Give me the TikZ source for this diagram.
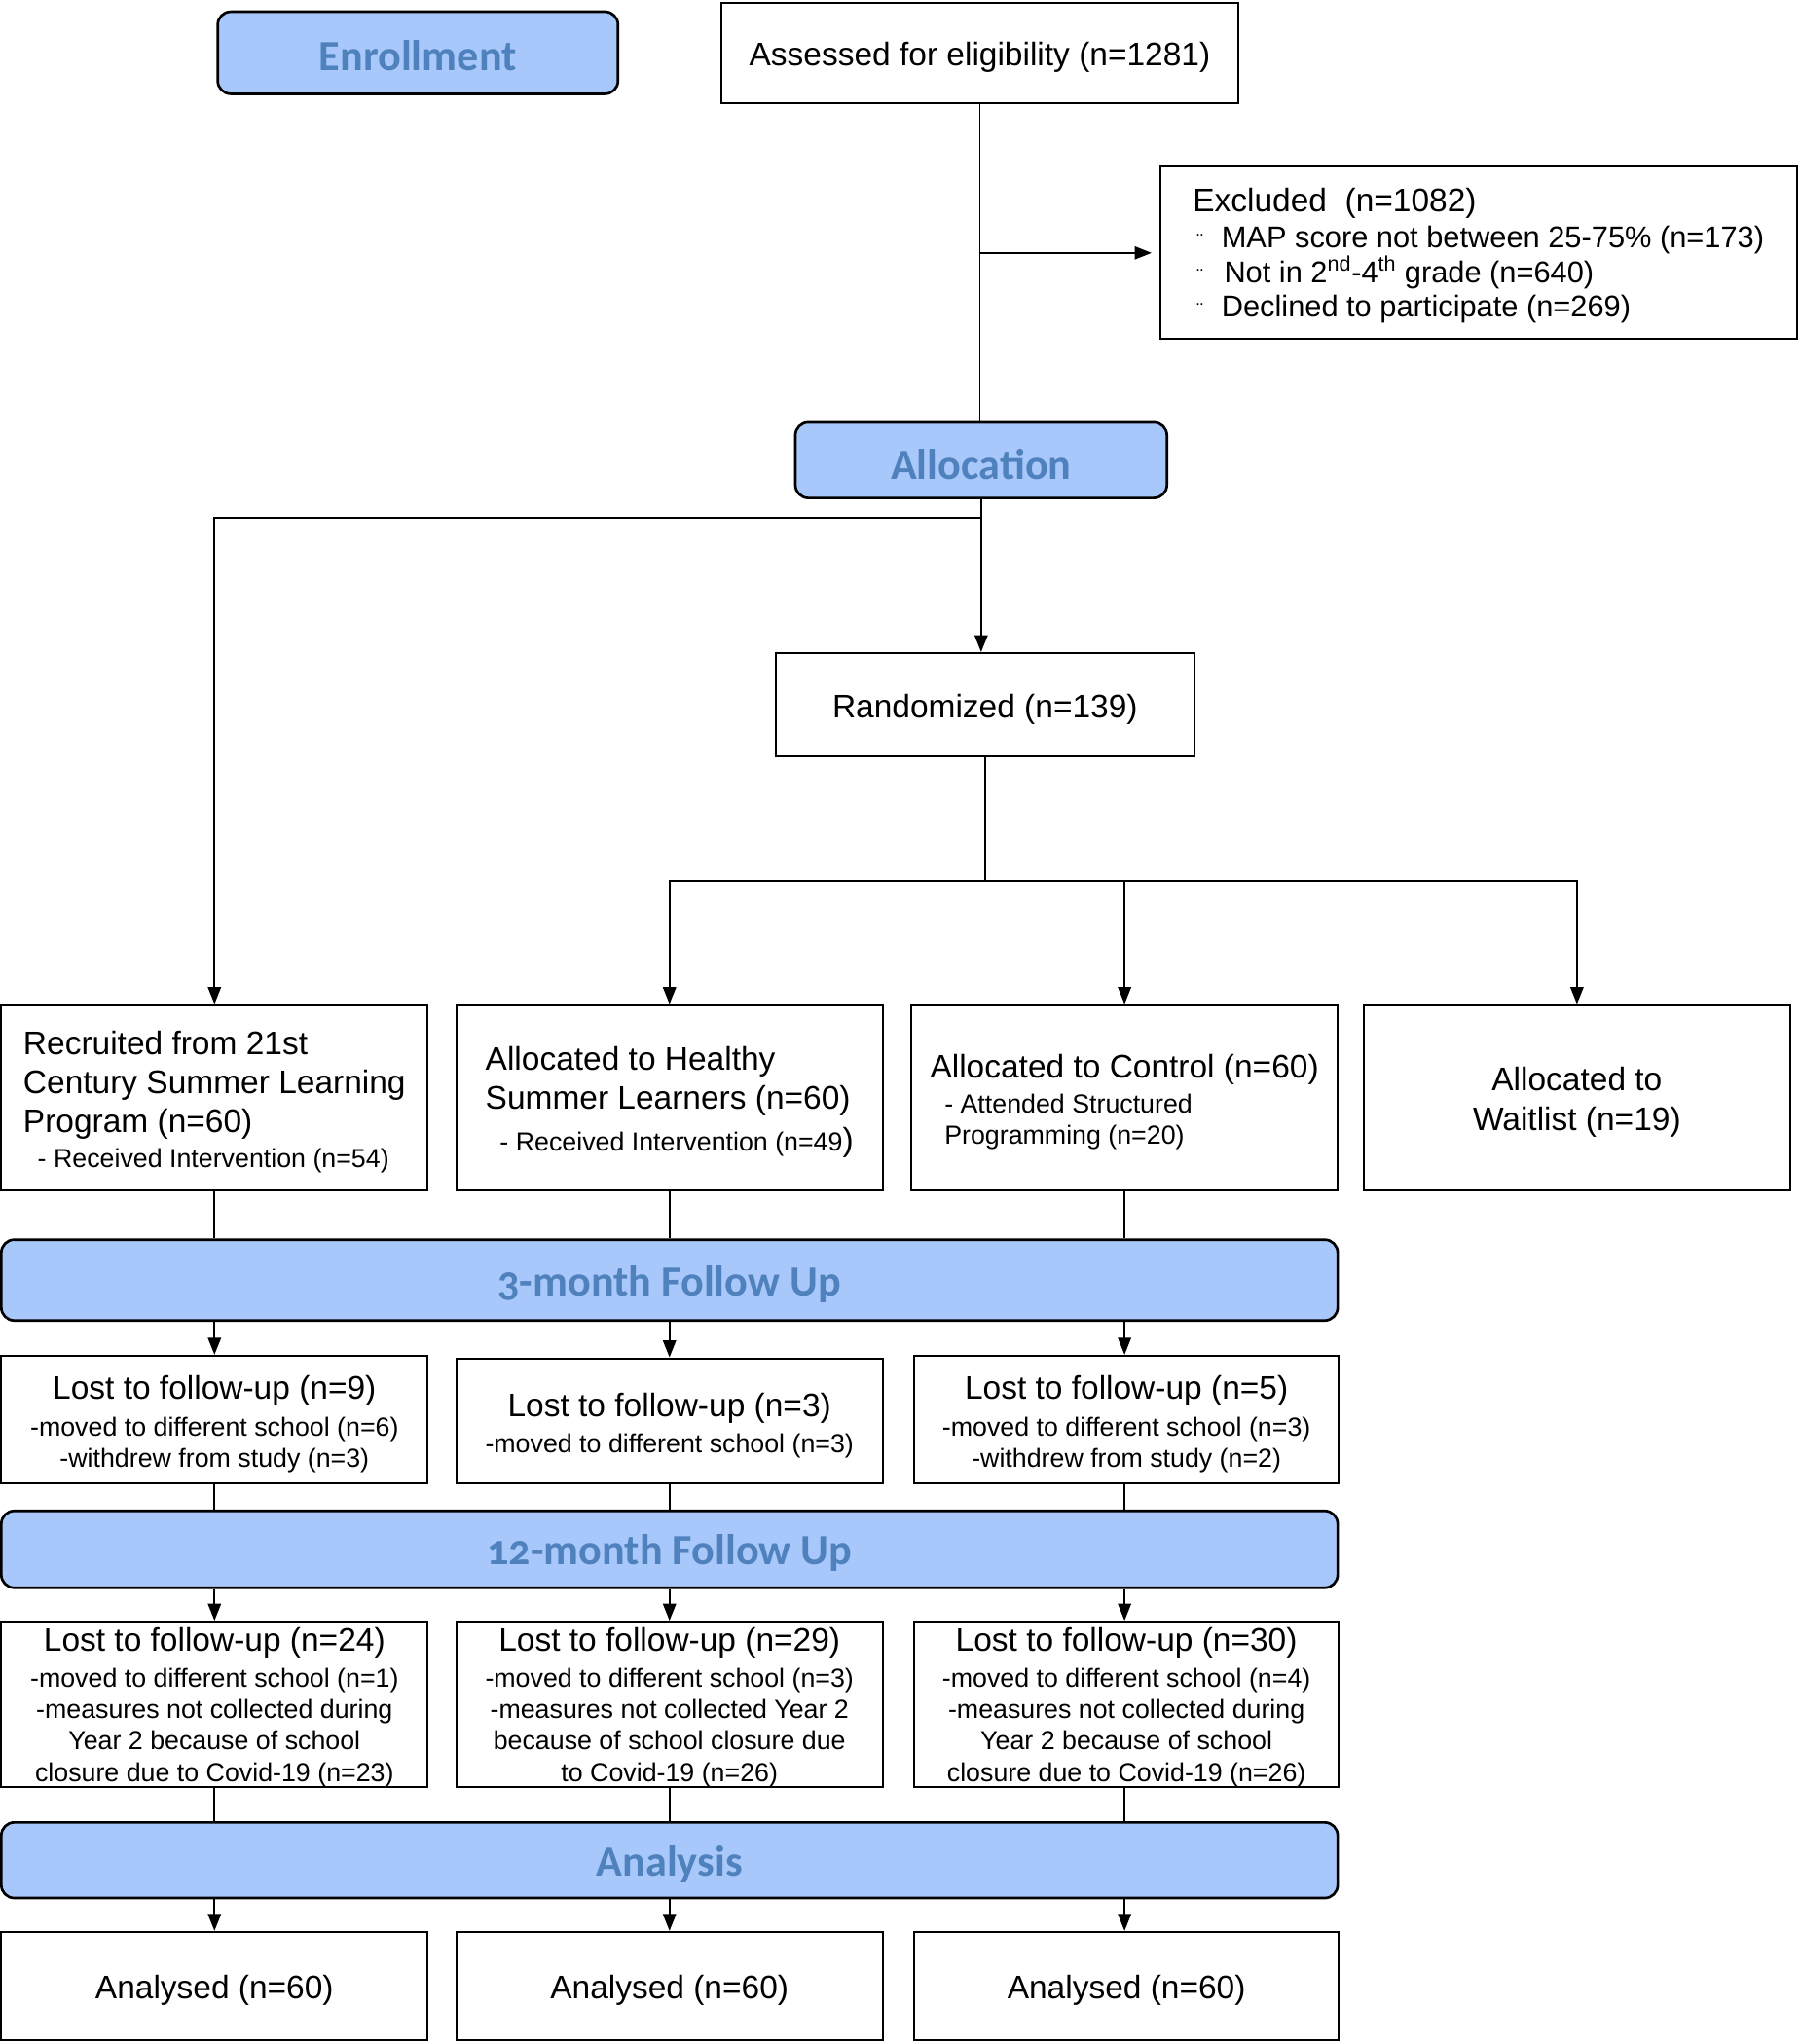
\documentclass[tikz,border=0pt]{standalone}
\usepackage{fontspec}
\setmainfont{Liberation Sans}
\newfontfamily\hdrfont[Numbers=OldStyle]{Carlito}
\usetikzlibrary{arrows.meta}
\definecolor{hdrfill}{RGB}{168,199,250}
\definecolor{hdrtext}{RGB}{79,129,189}
\newcommand\mainsz{\fontsize{25}{30}\selectfont}
\newcommand\smsz{\fontsize{20}{24}\selectfont}
\newcommand\exsz{\fontsize{23}{28}\selectfont}
\newcommand\bul{\makebox[19pt][l]{\fontsize{15}{15}\selectfont ¨}}
\newcommand\tp{\rule{0pt}{25pt}}
\newcommand\htp{\rule{0pt}{29pt}}
\begin{document}
\begin{tikzpicture}[x=1pt,y=-1pt,
  box/.style={draw=black,line width=1.5pt,fill=white,inner sep=2pt,align=center,font=\mainsz},
  hdr/.style={draw=black,line width=2pt,fill=hdrfill,rounded corners=10pt,text=hdrtext,
    font=\hdrfont\bfseries\fontsize{33}{40}\selectfont,inner sep=0pt},
  conn/.style={line width=1.4pt},
  arr/.style={conn,-{Triangle[length=13pt,width=10pt]}}]
\useasboundingbox (0,0) rectangle (1380,1568);

% top part
\node[hdr,minimum width=307,minimum height=63] (enr) at (320.5,40.5) {\rule{0pt}{27pt}Enrollment};
\node[box,minimum width=397,minimum height=77] (assess) at (751.5,40.5) {\tp Assessed for eligibility (n=1281)};
\node[box,align=left,minimum width=488,minimum height=132] (excl) at (1134,194)
  {\rule{0pt}{22pt}Excluded\ \ (n=1082)\\[-2pt]
   {\exsz\hspace*{3pt}\bul MAP score not between 25-75\% (n=173)}\\[-3pt]
   {\exsz\hspace*{3pt}\bul\hspace*{2pt}Not in 2\textsuperscript{nd}-4\textsuperscript{th} grade (n=640)}\\[-4pt]
   {\exsz\hspace*{3pt}\bul Declined to participate (n=269)}};
\node[hdr,minimum width=285,minimum height=58] (alloc) at (752.5,353) {\htp Allocation};
\node[box,minimum width=321,minimum height=79] (rand) at (755.5,540.5) {\tp Randomized (n=139)};

% allocation row
\node[box,align=left,minimum width=327,minimum height=142] (r1) at (164.5,842)
  {\tp Recruited from 21st\\Century Summer Learning\\Program (n=60)\\[-3pt]
   {\smsz\hspace*{11pt}- Received Intervention (n=54)}};
\node[box,align=left,minimum width=327,minimum height=142] (r2) at (513.5,842)
  {\tp Allocated to Healthy\\Summer Learners (n=60)\\[2pt]
   {\smsz\hspace*{11pt}- Received Intervention (n=49}){}};
\node[box,align=left,minimum width=327,minimum height=142] (r3) at (862.5,842)
  {\tp Allocated to Control (n=60)\\[-3pt]
   {\smsz\hspace*{11pt}- Attended Structured}\\[-6pt]
   {\smsz\hspace*{11pt}Programming (n=20)}};
\node[box,minimum width=327,minimum height=142] (r4) at (1209.5,842) {\tp Allocated to\\Waitlist (n=19)};

% 3-month
\node[hdr,minimum width=1025,minimum height=62] (fu3) at (513.5,982) {\htp 3-month Follow Up};
\node[box,minimum width=327,minimum height=98] (l1) at (164.5,1089)
  {\tp Lost to follow-up (n=9)\\[-2pt]
   {\smsz -moved to different school (n=6)}\\[-6pt]
   {\smsz -withdrew from study (n=3)}};
\node[box,minimum width=327,minimum height=96] (l2) at (513.5,1090)
  {\tp Lost to follow-up (n=3)\\[-2pt]
   {\smsz -moved to different school (n=3)}};
\node[box,minimum width=326,minimum height=98] (l3) at (864,1089)
  {\tp Lost to follow-up (n=5)\\[-2pt]
   {\smsz -moved to different school (n=3)}\\[-6pt]
   {\smsz -withdrew from study (n=2)}};

% 12-month
\node[hdr,minimum width=1025,minimum height=59] (fu12) at (513.5,1188.5) {\htp 12-month Follow Up};
\node[box,minimum width=327,minimum height=127,inner ysep=0pt] (m1) at (164.5,1307.5)
  {\rule{0pt}{22pt}Lost to follow-up (n=24)\\[-2pt]
   {\smsz -moved to different school (n=1)}\\[-6pt]
   {\smsz -measures not collected during}\\[-6pt]
   {\smsz Year 2 because of school}\\[-6pt]
   {\smsz closure due to Covid-19 (n=23)}};
\node[box,minimum width=327,minimum height=127,inner ysep=0pt] (m2) at (513.5,1307.5)
  {\rule{0pt}{22pt}Lost to follow-up (n=29)\\[-2pt]
   {\smsz -moved to different school (n=3)}\\[-6pt]
   {\smsz -measures not collected Year 2}\\[-6pt]
   {\smsz because of school closure due}\\[-6pt]
   {\smsz to Covid-19 (n=26)}};
\node[box,minimum width=326,minimum height=127,inner ysep=0pt] (m3) at (864,1307.5)
  {\rule{0pt}{22pt}Lost to follow-up (n=30)\\[-2pt]
   {\smsz -moved to different school (n=4)}\\[-6pt]
   {\smsz -measures not collected during}\\[-6pt]
   {\smsz Year 2 because of school}\\[-6pt]
   {\smsz closure due to Covid-19 (n=26)}};

% analysis
\node[hdr,minimum width=1025,minimum height=58] (ana) at (513.5,1427) {\htp Analysis};
\node[box,minimum width=327,minimum height=83] (a1) at (164.5,1523.5) {\tp Analysed (n=60)};
\node[box,minimum width=327,minimum height=83] (a2) at (513.5,1523.5) {\tp Analysed (n=60)};
\node[box,minimum width=326,minimum height=83] (a3) at (864,1523.5) {\tp Analysed (n=60)};

% connectors
\coordinate (b1) at (752.5,397);
\coordinate (b2) at (755.5,676);
\draw[conn] (assess.south) -- (assess.south |- alloc.north);
\draw[arr,shorten >=6pt] (assess.south |- excl.west) -- (excl.west);
\draw[arr] (alloc.south) -- (alloc.south |- rand.north);
\draw[arr] (b1) -| (r1.north);
\draw[conn] (rand.south) -- (b2);
\draw[arr] (b2) -| (r2.north);
\draw[arr] (b2) -| (r3.north);
\draw[arr] (b2) -| (r4.north);

\foreach \r/\l/\m/\a in {r1/l1/m1/a1, r2/l2/m2/a2, r3/l3/m3/a3}{
  \draw[conn] (\r.south) -- (\r.south |- fu3.north);
  \draw[arr] (\r.south |- fu3.south) -- (\r.south |- \l.north);
  \draw[conn] (\r.south |- \l.south) -- (\r.south |- fu12.north);
  \draw[arr] (\r.south |- fu12.south) -- (\r.south |- \m.north);
  \draw[conn] (\r.south |- \m.south) -- (\r.south |- ana.north);
  \draw[arr] (\r.south |- ana.south) -- (\r.south |- \a.north);
}
\end{tikzpicture}
\end{document}
